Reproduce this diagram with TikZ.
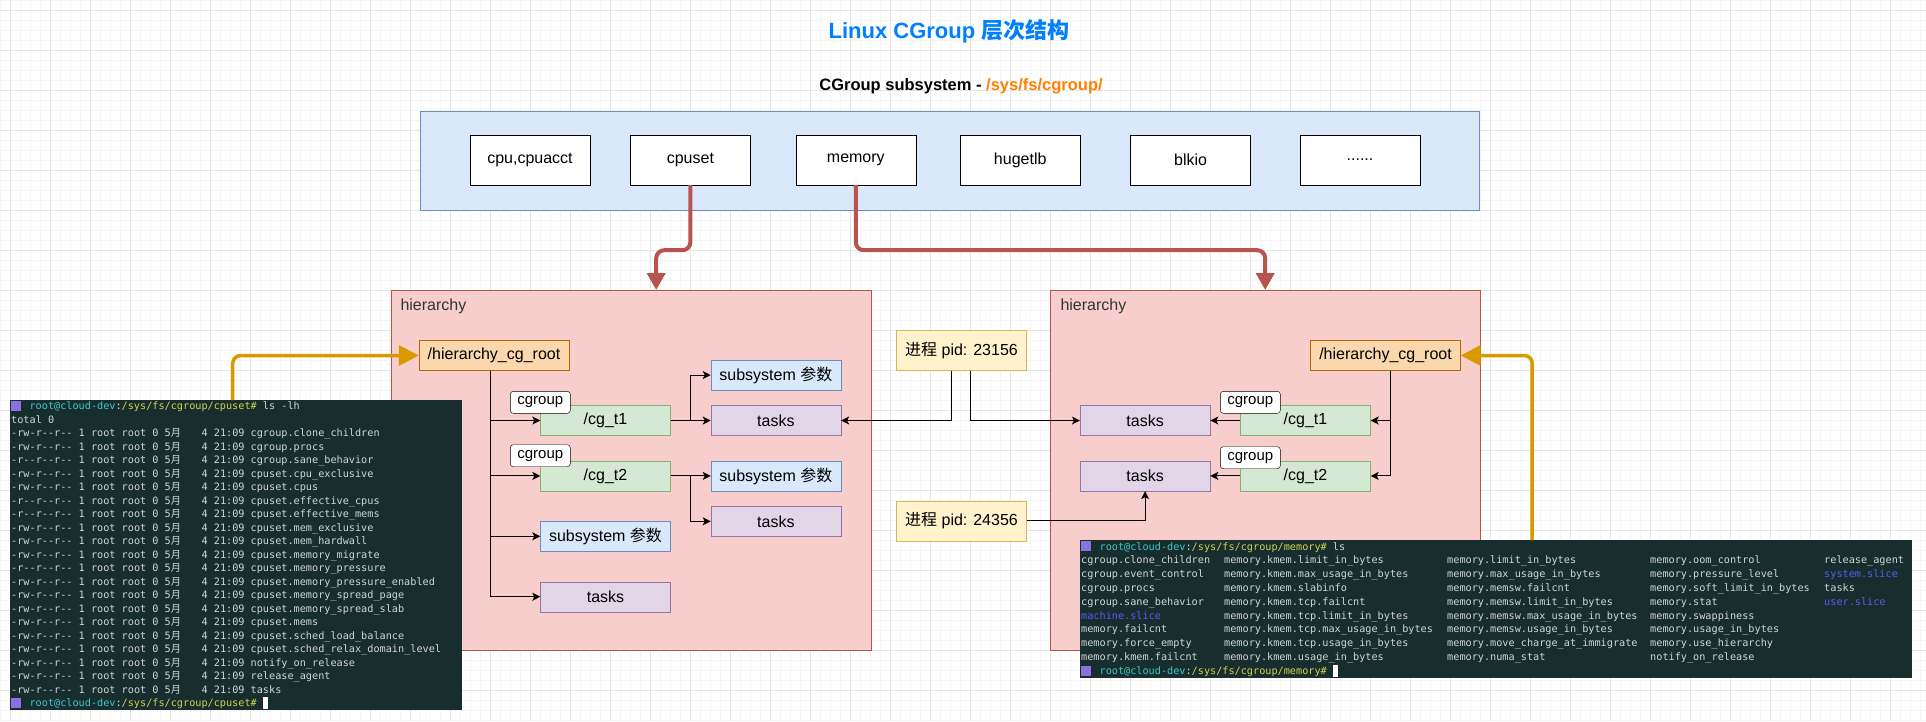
\documentclass[tikz,border=0pt]{standalone}
\usepackage{fontspec}
\setmainfont{Liberation Sans}
\setmonofont{DejaVu Sans Mono}
\newfontfamily\cjk{Noto Sans CJK SC}
\usetikzlibrary{arrows.meta,positioning}

\definecolor{gridmajor}{HTML}{E6E6E6}
\definecolor{gridminor}{HTML}{F5F5F5}
\definecolor{sysfill}{HTML}{DAE8FC}
\definecolor{sysline}{HTML}{6C8EBF}
\definecolor{hierfill}{HTML}{F8CECC}
\definecolor{hierline}{HTML}{B85450}
\definecolor{rootfill}{HTML}{FAD7AC}
\definecolor{rootline}{HTML}{B46504}
\definecolor{cgfill}{HTML}{D5E8D4}
\definecolor{cgline}{HTML}{82B366}
\definecolor{taskfill}{HTML}{E1D5E7}
\definecolor{taskline}{HTML}{9673A6}
\definecolor{pidfill}{HTML}{FFF2CC}
\definecolor{pidline}{HTML}{D6B656}
\definecolor{titleblue}{HTML}{007FFF}
\definecolor{pathorange}{HTML}{FF8000}
\definecolor{feedorange}{HTML}{D79B00}
\definecolor{termbg}{HTML}{182D2E}
\definecolor{termtext}{HTML}{D2D6D6}
\definecolor{promptteal}{HTML}{3CC8C8}
\definecolor{promptyellow}{HTML}{D2D250}
\definecolor{termblue}{HTML}{5160F0}
\definecolor{iconpurple}{HTML}{8A70E0}

\newcommand\fs[1]{\fontsize{#1}{#1}\selectfont}
\newcommand\termfont{\ttfamily\fontsize{10.2}{12}\selectfont}
\newcommand\lsprompt[1]{\makebox[18.4pt][l]{\textcolor{iconpurple}{\rule[-1pt]{10pt}{10pt}}}%
  \textcolor{promptteal}{root@cloud-dev}:\textcolor{promptyellow}{/sys/fs/cgroup/#1\#}}
\newcommand\yue{\makebox[12.3pt][l]{\cjk 月}}
\newcommand\cursor{\textcolor{white}{\rule[-2pt]{5pt}{12pt}}}

\begin{document}
\begin{tikzpicture}[x=1pt,y=-1pt,
  >={Stealth[length=8pt,width=8pt,inset=2pt]},
  sys node/.style={draw=black,fill=white,minimum width=120pt,
    minimum height=50pt,font=\fs{16}},
  plain box/.style={draw,minimum width=130pt,minimum height=30pt,
    inner sep=0pt,font=\fs{16}},
  root node/.style={plain box,draw=rootline,fill=rootfill,minimum width=150pt},
  cg node/.style={plain box,draw=cgline,fill=cgfill},
  task node/.style={plain box,draw=taskline,fill=taskfill},
  param node/.style={plain box,draw=sysline,fill=sysfill},
  pid node/.style={plain box,draw=pidline,fill=pidfill,minimum height=40pt},
  cg label/.style={draw=black,fill=white,rounded corners=3pt,minimum width=60pt,
    minimum height=22pt,inner sep=0pt,font=\fs{15}},
  hier box/.style={draw=hierline,fill=hierfill,anchor=north west,
    minimum height=360pt,inner sep=0pt},
  hier label/.style={anchor=west,font=\fs{16},text=black!80},
  link/.style={->,draw=black,line width=1pt},
  sel arrow/.style={-{Triangle[length=17pt,width=18pt]},draw=hierline,
    line width=4pt,rounded corners=8pt},
  feed arrow/.style={-{Triangle[length=20pt,width=20pt]},draw=feedorange,
    line width=3.5pt,rounded corners=8pt},
  term box/.style={fill=termbg,anchor=north west,inner sep=0pt},
  term line/.style={anchor=base west,inner sep=0pt,font=\termfont,text=termtext}]

  \useasboundingbox (0,0) rectangle (1926,721);
  \fill[white] (0,0) rectangle (1926,721);

  % background grid
  \foreach \x in {0,10,...,1920} \draw[gridminor] (\x,0) -- (\x,721);
  \foreach \y in {0,10,...,720} \draw[gridminor] (0,\y) -- (1926,\y);
  \foreach \x in {10,50,...,1890} \draw[gridmajor] (\x,0) -- (\x,721);
  \foreach \y in {10,50,...,690} \draw[gridmajor] (0,\y) -- (1926,\y);

  \node[font=\fs{22}\bfseries,text=titleblue] (title) at (949,31)
    {Linux CGroup {\cjk 层次结构}};
  \node[font=\fs{16.5}\bfseries] (subtitle) at (961,86)
    {CGroup subsystem - \textcolor{pathorange}{/sys/fs/cgroup/}};

  % subsystems
  \node[fill=sysfill,draw=sysline,anchor=north west,inner sep=0pt,
    minimum width=1059pt,minimum height=99pt] (subsys) at (420,111) {};
  \node[sys node] (cpu) at (530,160) {cpu,cpuacct};
  \node[sys node,right=40pt of cpu] (cpuset) {cpuset};
  \node[sys node,right=45pt of cpuset] (memory) {memory};
  \node[sys node,right=44pt of memory] (hugetlb) {hugetlb};
  \node[sys node,right=50pt of hugetlb] (blkio) {blkio};
  \node[sys node,right=49pt of blkio] (more) {......};

  % hierarchies
  \node[hier box,minimum width=480pt] (lhier) at (391,290) {};
  \node[hier box,minimum width=430pt] (rhier) at (1050,290) {};
  \node[hier label] (lhlabel) at (397,306) {hierarchy};
  \node[hier label] (rhlabel) at (1057,306) {hierarchy};

  \draw[sel arrow] (cpuset.south) -- ++(0,65) -| ([xshift=25pt]lhier.north);
  \draw[sel arrow] (memory.south) -- ++(0,65) -| (rhier.north);

  % left hierarchy (cpuset)
  \node[root node] (lroot) at (494,355.5) {/hierarchy\_cg\_root};
  \node[cg node] (lcg1) at (605.5,420.5) {/cg\_t1};
  \node[cg node,below=25pt of lcg1] (lcg2) {/cg\_t2};
  \node[param node,below=30pt of lcg2] (lparam) {subsystem {\cjk 参数}};
  \node[task node,below=30pt of lparam] (ltask) {tasks};
  \node[task node,right=40pt of lcg1] (ltask1) {tasks};
  \node[param node,above=15pt of ltask1] (lparam1) {subsystem {\cjk 参数}};
  \node[param node,right=40pt of lcg2] (lparam2) {subsystem {\cjk 参数}};
  \node[task node,below=15pt of lparam2] (ltask2) {tasks};

  \draw[link] ([xshift=-4pt]lroot.south) |- (lcg1);
  \draw[link] ([xshift=-4pt]lroot.south) |- (lcg2);
  \draw[link] ([xshift=-4pt]lroot.south) |- (lparam);
  \draw[link] ([xshift=-4pt]lroot.south) |- (ltask);
  \draw[link] (lcg1) -- (ltask1);
  \draw[link] (lcg1.east) -- ++(20,0) |- (lparam1);
  \draw[link] (lcg2) -- (lparam2);
  \draw[link] (lcg2.east) -- ++(20,0) |- (ltask2);

  \node[cg label,yshift=3pt] (lcgl1) at (lcg1.north west) {cgroup};
  \node[cg label,yshift=5pt] (lcgl2) at (lcg2.north west) {cgroup};

  % right hierarchy (memory)
  \node[root node] (rroot) at (1385.5,355.5) {/hierarchy\_cg\_root};
  \node[cg node] (rcg1) at (1305.5,420.5) {/cg\_t1};
  \node[cg node,below=25pt of rcg1] (rcg2) {/cg\_t2};
  \node[task node,left=30pt of rcg1] (rtask1) {tasks};
  \node[task node,left=30pt of rcg2] (rtask2) {tasks};

  \draw[link] ([xshift=4.5pt]rroot.south) |- (rcg1);
  \draw[link] ([xshift=4.5pt]rroot.south) |- (rcg2);
  \draw[link] (rcg1) -- (rtask1);
  \draw[link] (rcg2) -- (rtask2);

  \node[cg label,xshift=10pt,yshift=3pt] (rcgl1) at (rcg1.north west) {cgroup};
  \node[cg label,xshift=10pt,yshift=3pt] (rcgl2) at (rcg2.north west) {cgroup};

  % processes
  \node[pid node] (pid1) at (961.5,350.5) {{\cjk 进程} pid: 23156};
  \node[pid node,below=130pt of pid1] (pid2) {{\cjk 进程} pid: 24356};

  \draw[link] ([xshift=-10.5pt]pid1.south) |- (ltask1);
  \draw[link] ([xshift=8.5pt]pid1.south) |- (rtask1);
  \draw[link] (pid2) -| (rtask2);

  % terminals
  \node[term box,minimum width=452pt,minimum height=310pt] (lterm) at (10,400) {};
  \node[term box,minimum width=832pt,minimum height=138pt] (rterm) at (1080,540) {};

  \draw[feed arrow] ([xshift=-3.5pt]lterm.north) |- (lroot);
  \draw[feed arrow] ([xshift=36pt]rterm.north) |- (rroot);

  \node[term line] (lt0) at (11,409.5) {\lsprompt{cpuset} ls -lh};
  \node[term line] (lt1) at (11,423) {total 0};
  \foreach \perm/\fname [count=\i from 2] in {
      -rw-r--r--/cgroup.clone\_children, -rw-r--r--/cgroup.procs,
      -r--r--r--/cgroup.sane\_behavior, -rw-r--r--/cpuset.cpu\_exclusive,
      -rw-r--r--/cpuset.cpus, -r--r--r--/cpuset.effective\_cpus,
      -r--r--r--/cpuset.effective\_mems, -rw-r--r--/cpuset.mem\_exclusive,
      -rw-r--r--/cpuset.mem\_hardwall, -rw-r--r--/cpuset.memory\_migrate,
      -r--r--r--/cpuset.memory\_pressure,
      -rw-r--r--/cpuset.memory\_pressure\_enabled,
      -rw-r--r--/cpuset.memory\_spread\_page,
      -rw-r--r--/cpuset.memory\_spread\_slab, -rw-r--r--/cpuset.mems,
      -rw-r--r--/cpuset.sched\_load\_balance,
      -rw-r--r--/cpuset.sched\_relax\_domain\_level,
      -rw-r--r--/notify\_on\_release, -rw-r--r--/release\_agent,
      -rw-r--r--/tasks}
    \node[term line] (lt\i) at (11,{409.5+13.5*\i})
      {\perm\ 1 root root 0 5\yue\ \ \ 4 21:09 \fname};
  \node[term line] (lt22) at (11,706.5) {\lsprompt{cpuset} \cursor};

  \node[term line] (rt0) at (1081,550) {\lsprompt{memory} ls};
  \foreach \ca/\cb/\cc/\cd/\ce [count=\i] in {
      cgroup.clone\_children/memory.kmem.limit\_in\_bytes/memory.limit\_in\_bytes/memory.oom\_control/release\_agent,
      cgroup.event\_control/memory.kmem.max\_usage\_in\_bytes/memory.max\_usage\_in\_bytes/memory.pressure\_level/\textcolor{termblue}{system.slice},
      cgroup.procs/memory.kmem.slabinfo/memory.memsw.failcnt/memory.soft\_limit\_in\_bytes/tasks,
      cgroup.sane\_behavior/memory.kmem.tcp.failcnt/memory.memsw.limit\_in\_bytes/memory.stat/\textcolor{termblue}{user.slice},
      \textcolor{termblue}{machine.slice}/memory.kmem.tcp.limit\_in\_bytes/memory.memsw.max\_usage\_in\_bytes/memory.swappiness/{},
      memory.failcnt/memory.kmem.tcp.max\_usage\_in\_bytes/memory.memsw.usage\_in\_bytes/memory.usage\_in\_bytes/{},
      memory.force\_empty/memory.kmem.tcp.usage\_in\_bytes/memory.move\_charge\_at\_immigrate/memory.use\_hierarchy/{},
      memory.kmem.failcnt/memory.kmem.usage\_in\_bytes/memory.numa\_stat/notify\_on\_release/{}} {
    \node[term line] (rta\i) at (1081,{550+13.83*\i}) {\ca};
    \node[term line] (rtb\i) at (1224,{550+13.83*\i}) {\cb};
    \node[term line] (rtc\i) at (1447,{550+13.83*\i}) {\cc};
    \node[term line] (rtd\i) at (1650,{550+13.83*\i}) {\cd};
    \node[term line] (rte\i) at (1824,{550+13.83*\i}) {\ce};
  }
  \node[term line] (rt9) at (1081,674.5) {\lsprompt{memory} \cursor};

\end{tikzpicture}
\end{document}
